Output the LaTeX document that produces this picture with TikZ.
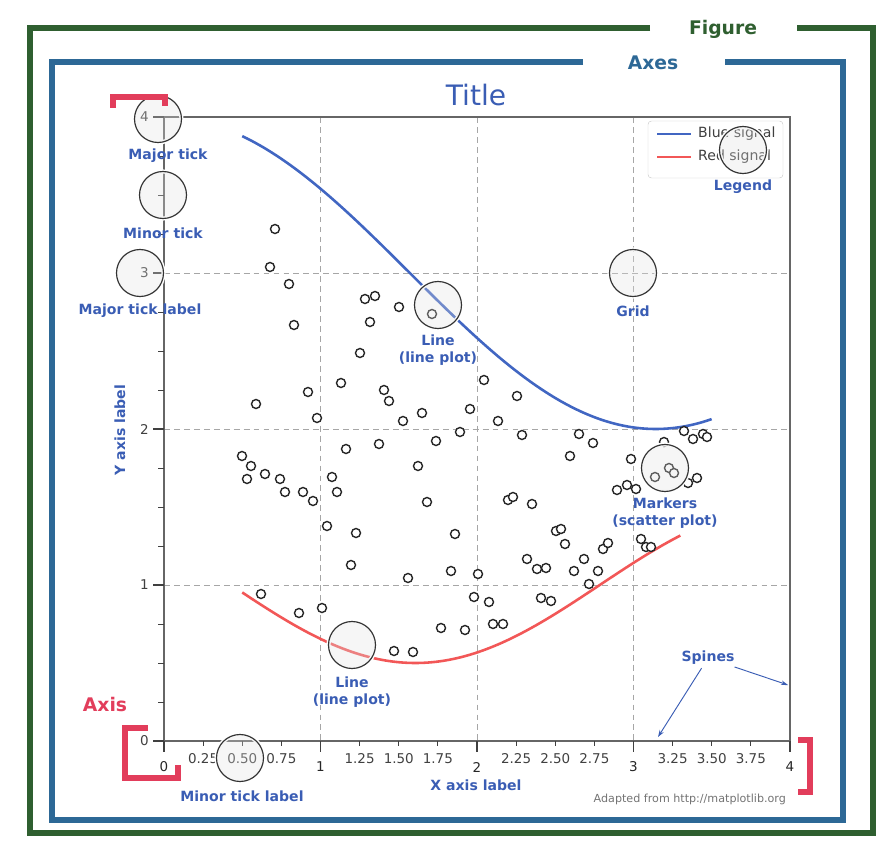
\documentclass[tikz,border=0pt]{standalone}
\usepackage{fontspec}
\setmainfont{DejaVu Sans}
\usetikzlibrary{arrows.meta,calc}
\definecolor{figgreen}{HTML}{2F5F30}
\definecolor{axesblue}{HTML}{2D6896}
\definecolor{notered}{HTML}{E23D5B}
\definecolor{noteblue}{HTML}{3A5DB4}
\definecolor{sigblue}{HTML}{4166C2}
\definecolor{sigred}{HTML}{F25757}

\begin{document}
\begin{tikzpicture}[x=0.03cm, y=-0.03cm, >={Stealth[length=6pt,width=4pt]},
  note/.style={font=\bfseries\fontsize{12}{14}\selectfont, text=noteblue,
    align=center, inner sep=1pt},
  ring/.style={circle, minimum size=1.41cm, inner sep=0pt, fill=black!12,
    fill opacity=0.3, draw=black!80, line width=1pt,
    preaction={draw=white, line width=3.5pt}},
  ticklab/.style={font=\fontsize{11.5}{13}\selectfont, text=black!75, inner sep=0pt},
  gridline/.style={black!35, dash pattern=on 5pt off 3.5pt, line width=0.8pt},
  dot/.style={draw=black!85, fill=white, line width=1.2pt},
  bracket/.style={notered, line width=0.18cm, line join=miter}]
\useasboundingbox (0,0) rectangle (894,846);

% frames
\draw[figgreen, line width=0.16cm] (650,28) -- (30,28) -- (30,833) -- (873,833) -- (873,28) -- (797,28);
\node[font=\bfseries\fontsize{16}{18}\selectfont, text=figgreen] (figlab) at (723,29) {Figure};
\draw[axesblue, line width=0.19cm] (583,62) -- (52,62) -- (52,820) -- (843,820) -- (843,62) -- (725,62);
\node[font=\bfseries\fontsize{16}{18}\selectfont, text=axesblue] (axeslab) at (653,63) {Axes};

\node[font=\fontsize{24}{28}\selectfont, text=noteblue] (title) at (476,95) {Title};

% grid
\foreach \k in {1,2,3} {
  \draw[gridline] (164+156.5*\k,117) -- (164+156.5*\k,741);
  \draw[gridline] (164,741-156*\k) -- (790,741-156*\k);
}

% spines
\draw[black!60, line width=1.2pt] (164,117) rectangle (790,741);

% x ticks
\foreach \k in {0,1,2,3,4} {
  \draw[black!75, line width=1pt] (164+156.5*\k,741) -- (164+156.5*\k,752);
  \node[ticklab, text=black!85] (xt\k) at (164+156.5*\k,767) {\k};
}
\foreach \lab in {0.25,0.50,0.75,1.25,1.50,1.75,2.25,2.50,2.75,3.25,3.50,3.75} {
  \draw[black!75, line width=0.8pt] (164+156.5*\lab,741) -- (164+156.5*\lab,746);
  \node[ticklab] at (164+156.5*\lab,759) {\lab};
}

% y ticks
\foreach \k in {0,1,2,3,4} {
  \draw[black!75, line width=1pt] (164,741-156*\k) -- (153,741-156*\k);
  \node[ticklab, anchor=east] (yt\k) at (149,741-156*\k) {\k};
}
\foreach \k in {0.25,0.5,0.75,1.25,1.5,1.75,2.25,2.5,2.75,3.25,3.5,3.75} {
  \draw[black!75, line width=0.8pt] (164,741-156*\k) -- (158,741-156*\k);
}

% signals
\draw[sigblue, line width=2.2pt] plot[domain=0.5:3.5, samples=80, smooth]
  ({164+156.5*\x},{741-156*(3+cos(\x r))});
\draw[sigred, line width=2.2pt] plot[domain=0.5:3.3, samples=80, smooth]
  ({164+156.5*\x},{741-156*(1+cos((1+\x/0.75) r)/2)});

% markers
\foreach \px/\py in {275/229, 270/267, 289/284, 294/325, 365/299, 375/296, 399/307,
  432/314, 370/322, 360/353, 341/383, 308/392, 256/404, 317/418, 384/390, 389/401,
  422/413, 403/421, 470/409, 460/432, 436/441, 379/444, 346/449, 242/456, 251/466,
  247/479, 265/474, 280/479, 285/492, 303/492, 313/501, 332/477, 337/492, 418/466,
  427/502, 327/526, 356/533, 455/534, 351/565, 408/578, 451/571, 478/574, 474/597,
  261/594, 299/613, 322/608, 394/651, 413/652, 441/628, 465/630, 484/380, 517/396,
  498/421, 522/435, 579/434, 593/443, 570/456, 631/459, 655/477, 669/468, 674/473,
  697/478, 688/483, 617/490, 627/485, 636/489, 684/431, 693/439, 703/434, 707/437,
  664/442, 508/500, 513/497, 532/504, 556/531, 561/529, 565/544, 527/559, 537/569,
  546/568, 584/559, 574/571, 598/571, 603/549, 608/543, 589/584, 641/539, 646/547,
  651/547, 489/602, 541/598, 551/601, 493/624, 503/624}
  \draw[dot] (\px,\py) circle[radius=4.5];

% legend
\node[draw=black!20, fill=white, rounded corners=3pt, minimum width=4.05cm,
      minimum height=1.71cm, inner sep=0pt] (legend) at (715.5,149.5) {};
\draw[sigblue, line width=2.2pt] (657,134) -- (691,134);
\draw[sigred, line width=2.2pt] (657,157) -- (691,157);
\node[anchor=west, font=\fontsize{12}{14}\selectfont, text=black!75, inner sep=0pt]
  (blueentry) at (698,134) {Blue signal};
\node[anchor=west, font=\fontsize{12}{14}\selectfont, text=black!75, inner sep=0pt]
  (redentry) at (698,157) {Red signal};

% rings
\node[ring] (ringmajor) at (158,119) {};
\node[ring] (ringminor) at (163,195) {};
\node[ring] (ringticklab) at (140,273) {};
\node[ring] (ringgrid) at (633,273) {};
\node[ring] (ringlegend) at (743,150) {};
\node[ring] (ringline) at (438,305) {};
\node[ring] (ringmarkers) at (665,468) {};
\node[ring] (ringlinered) at (352,645) {};
\node[ring] (ringminorlab) at (240,758) {};

% notes
\node[note] (majortick) at (168,156) {Major tick};
\node[note] (minortick) at (163,233) {Minor tick};
\node[note] (majorticklab) at (140,311) {Major tick label};
\node[note] (gridlab) at (633,311) {Grid};
\node[note] (legendlab) at (743,187) {Legend};
\node[note] (linelab) at (438,350) {Line\\(line plot)};
\node[note] (markerslab) at (665,513) {Markers\\(scatter plot)};
\node[note] (lineredlab) at (352,692) {Line\\(line plot)};
\node[note] (minorticklab) at (242,796) {Minor tick label};
\node[note] (xlab) at (476,785) {X axis label};
\node[note, rotate=90] (ylab) at (120,430) {Y axis label};

% spines
\node[note] (spines) at (708,658) {Spines};
\coordinate (spinebot) at (658,737);
\coordinate (spineright) at (788,685);
\draw[->, noteblue, line width=0.8pt, shorten <=2pt] (spines) -- (spinebot);
\draw[->, noteblue, line width=0.8pt, shorten <=2pt] (spines) -- (spineright);

% axis brackets
\draw[bracket] (113,108) -- (113,97) -- (165,97) -- (165,106);
\draw[bracket] (148,728) -- (125,728) -- (125,778) -- (178,778) -- (178,765);
\draw[bracket] (798,740) -- (810,740) -- (810,792) -- (798,792);
\node[font=\bfseries\fontsize{16}{18}\selectfont, text=notered] (axislab) at (105,705) {Axis};

\node[anchor=east, font=\fontsize{9.5}{11}\selectfont, text=black!55] (credit)
  at (790,799) {Adapted from http://matplotlib.org};
\end{tikzpicture}
\end{document}
